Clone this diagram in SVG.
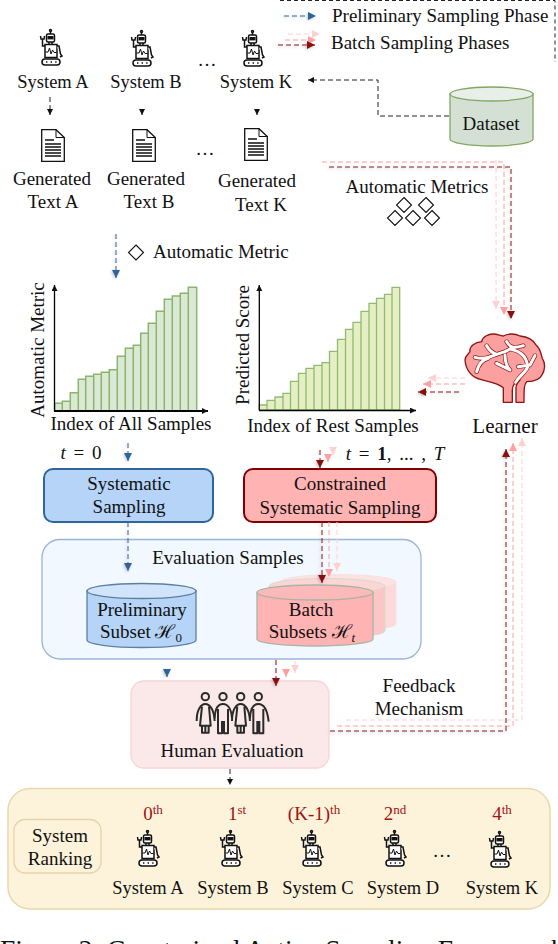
<svg xmlns="http://www.w3.org/2000/svg" xmlns:xlink="http://www.w3.org/1999/xlink" width="558" height="944" viewBox="0 0 558 944">
<style>
text{font-family:"Liberation Serif","DejaVu Serif",serif;font-size:19px;fill:#111;text-anchor:middle}
.st{text-anchor:start}
.sy{font-size:18.500px}
.lr{font-size:21px}
.rk{fill:#a01414;font-size:19px}
.sup{font-size:13px}
.cap{font-size:27.500px}
.math{word-spacing:3px}
.bar1{fill:#dae8d4;stroke:#8ab56f;stroke-width:1.500}
.bar2{fill:#e6efc4;stroke:#8fba70;stroke-width:1.300}
.ax{stroke:#000;stroke-width:1.300;fill:none;marker-end:url(#k)}
.ax2{stroke-width:2}
.d{fill:none;stroke-width:1;stroke-dasharray:5 3}
.bl{stroke:#2f6599;marker-end:url(#mb)}
.dr{stroke:#8b0d0d;marker-end:url(#mr)}
.pk{stroke:#ff9f9f;marker-end:url(#mp)}
.lp{stroke:#ffd0d0;marker-end:url(#ml)}
.kk{stroke:#222;marker-end:url(#k)}
.dia{fill:#fff;stroke:#111;stroke-width:1.100}
.rb{fill:#fff;stroke:#111;stroke-width:1.500}
.bk{fill:#111;stroke:none}
</style>
<defs>
<marker id="mb" markerUnits="userSpaceOnUse" markerWidth="9" markerHeight="9" refX="8" refY="4" orient="auto"><path d="M0,0L8,4L0,8Z" fill="#2f6599"/></marker>
<marker id="mr" markerUnits="userSpaceOnUse" markerWidth="9" markerHeight="9" refX="8" refY="4" orient="auto"><path d="M0,0L8,4L0,8Z" fill="#8b0d0d"/></marker>
<marker id="mp" markerUnits="userSpaceOnUse" markerWidth="9" markerHeight="9" refX="8" refY="4" orient="auto"><path d="M0,0L8,4L0,8Z" fill="#ff9f9f"/></marker>
<marker id="ml" markerUnits="userSpaceOnUse" markerWidth="9" markerHeight="9" refX="8" refY="4" orient="auto"><path d="M0,0L8,4L0,8Z" fill="#ffd0d0"/></marker>
<marker id="k" markerUnits="userSpaceOnUse" markerWidth="8" markerHeight="8" refX="6" refY="3" orient="auto"><path d="M0,0L6,3L0,6Z" fill="#111"/></marker>
<filter id="sh" filterUnits="userSpaceOnUse" x="0" y="0" width="558" height="944"><feDropShadow dx="-1" dy="1" stdDeviation="1.400" flood-color="#777" flood-opacity=".45"/></filter>
<g id="robot">
<circle class="rb" cx="10.500" cy="1.600" r="1"/><path class="rb" d="M10.500,3V5"/>
<rect class="rb" x="6.500" y="5" width="8" height="8" rx="1.500"/><rect class="bk" x="7.500" y="7" width="6" height="3.400"/>
<path class="rb" d="M9,13V15.500M12,13V15.500"/>
<path class="rb" fill="none" d="M5,17H2.500V10M0.500,7L1,10H4L4.500,7"/>
<rect class="rb" x="5" y="15.500" width="12" height="13"/>
<path fill="none" stroke="#111" stroke-width="1" d="M5.500,23H8L9.500,19L11,25L12.500,21L14,23.500H16.500"/>
<path class="rb" fill="none" d="M17,17H19L20.500,25L22,27L20,28"/>
<rect class="rb" x="2" y="30" width="18" height="6" rx="3"/>
<path stroke="#111" stroke-width="1.400" stroke-dasharray="1.400 3.200" d="M6,33H17"/>
</g>
<g id="doc">
<path d="M.7,.7H15L23.300,8.500V32.300H.7Z" fill="#fff" stroke="#111" stroke-width="1.300"/>
<path d="M15,.7V8.500H23.300" fill="none" stroke="#111" stroke-width="1"/>
<path d="M4,11H13M4,15H20M4,18H20M4,21H20M4,24H20M4,27H20" stroke="#111" stroke-width="1.400"/>
</g>
</defs>
<rect width="558" height="944" fill="#fff"/>

<g id="legend">
<path d="M280,.5H555V62" fill="none" stroke="#222" stroke-dasharray="4 3"/>
<text class="st" x="332" y="22">Preliminary Sampling Phase</text>
<text class="st" x="331" y="49">Batch Sampling Phases</text>
</g>

<g id="system-a"><use xlink:href="#robot" href="#robot" x="40" y="29"/><text class="sy" x="53" y="88">System A</text></g>
<g id="system-b"><use xlink:href="#robot" href="#robot" x="131" y="30"/><text class="sy" x="146" y="88">System B</text></g>
<g id="system-k"><use xlink:href="#robot" href="#robot" x="242" y="30"/><text class="sy" x="256" y="88">System K</text></g>
<text x="207" y="66">…</text>
<g id="text-a"><use xlink:href="#doc" href="#doc" x="41" y="129"/><text x="52" y="185">Generated</text><text x="53" y="208">Text A</text></g>
<g id="text-b"><use xlink:href="#doc" href="#doc" x="132" y="129"/><text x="146" y="185">Generated</text><text x="149" y="208">Text B</text></g>
<g id="text-k"><use xlink:href="#doc" href="#doc" x="244" y="128"/><text x="257" y="187">Generated</text><text x="261" y="211">Text K</text></g>
<text x="205" y="155">…</text>

<g id="dataset">
<path d="M450,94V139A41.500,7 0 0 0 533,139V94Z" fill="#d3e0d3" stroke="#82a860" stroke-width="1.300"/>
<ellipse cx="491.500" cy="94" rx="41.500" ry="7" fill="#e8eee8" stroke="#82a860" stroke-width="1.300"/>
<text x="491" y="130">Dataset</text>
</g>

<g id="automatic-metrics">
<text x="417" y="193">Automatic Metrics</text>
<path class="dia" d="M404,197.500l7.500,7.500l-7.500,7.500l-7.500,-7.500ZM426,197.500l7.500,7.500l-7.500,7.500l-7.500,-7.500ZM395,210.500l7.500,7.500l-7.500,7.500l-7.500,-7.500ZM413,210.500l7.500,7.500l-7.500,7.500l-7.500,-7.500ZM432,210.500l7.500,7.500l-7.500,7.500l-7.500,-7.500Z"/>
</g>
<g id="automatic-metric">
<path class="dia" d="M136,245l7.500,7.500l-7.500,7.500l-7.500,-7.500Z"/>
<text class="st" x="153" y="258">Automatic Metric</text>
</g>

<g id="chart-all">
<path class="bar1" d="M54.700,411V403.300H62.300V411ZM62.300,411V401.300H70.300V411ZM70.300,411V392.700H78.300V411ZM78.300,411V379.300H85.700V411ZM85.700,411V376.300H93.700V411ZM93.700,411V374.300H101.300V411ZM101.300,411V372.300H109.300V411ZM109.300,411V369.700H117.300V411ZM117.300,411V356.300H125.300V411ZM125.300,411V348.300H133.300V411ZM133.300,411V345.300H140.700V411ZM140.700,411V333.300H148.300V411ZM148.300,411V323.300H156.300V411ZM156.300,411V311.300H164.300V411ZM164.300,411V299.300H172.300V411ZM172.300,411V296H180.300V411ZM180.300,411V293.300H188.300V411ZM188.300,411V287.300H196.700V411Z"/>
<path class="ax" d="M54.500,411V285"/><path class="ax ax2" d="M54,411H208"/>
<text transform="translate(44,350) rotate(-90)">Automatic Metric</text>
<text x="131" y="430">Index of All Samples</text>
<text class="math" x="81" y="459"><tspan font-style="italic">t</tspan> = 0</text>
</g>
<g id="chart-rest">
<path class="bar2" d="M259.300,410V405H267V410ZM267,410V400.300H275V410ZM275,410V397H283V410ZM283,410V393.300H290.500V410ZM290.500,410V381.300H298.500V410ZM298.500,410V373.300H306V410ZM306,410V368.300H314V410ZM314,410V365.300H322V410ZM322,410V362.700H329.500V410ZM329.500,410V351.300H337.500V410ZM337.500,410V339.300H345.500V410ZM345.500,410V329.300H353V410ZM353,410V322.300H361V410ZM361,410V311.300H369V410ZM369,410V303.300H376.500V410ZM376.500,410V298.300H384.500V410ZM384.500,410V294.300H392V410ZM392,410V287.300H399.700V410Z"/>
<path class="ax" d="M259.300,410V285"/><path class="ax" d="M259,410.500H416"/>
<text transform="translate(249,345) rotate(-90)">Predicted Score</text>
<text x="333" y="432">Index of Rest Samples</text>
<text class="math" x="395" y="460"><tspan font-style="italic">t</tspan> = <tspan font-weight="bold">1</tspan>, ... , <tspan font-style="italic">T</tspan></text>
</g>

<g id="learner">
<g transform="translate(455,325) scale(.3333)">
<path d="M145,232V188C125,172 95,170 72,162C50,155 32,135 30,105C30,92 40,88 45,80C42,62 62,52 80,50C82,35 100,27 115,27C128,27 138,34 145,33C158,25 180,25 195,33C215,35 235,45 243,60C258,72 258,90 262,100C272,115 270,135 262,148C255,165 235,170 215,170C207,180 207,190 207,232H183V190C183,180 190,170 195,165C182,170 172,180 172,195V232Z" fill="#fb9f9f" stroke="#8b1515" stroke-width="4" stroke-linejoin="round"/>
<g fill="none" stroke-linecap="round" stroke-linejoin="round">
<path stroke="#8b1515" stroke-width="13" d="M60,97C90,105 105,95 125,88L150,80M95,62C105,80 115,85 125,88M155,50C165,70 180,70 205,62M165,72C200,80 215,95 218,125C215,140 195,150 182,172M240,92L225,120L190,125M65,140C70,120 80,105 100,100M125,115L165,135M150,90C150,110 155,125 165,135M150,80L165,72"/>
<path stroke="#fff" stroke-width="9" d="M60,97C90,105 105,95 125,88L150,80M95,62C105,80 115,85 125,88M155,50C165,70 180,70 205,62M165,72C200,80 215,95 218,125C215,140 195,150 182,172M240,92L225,120L190,125M65,140C70,120 80,105 100,100M125,115L165,135M150,90C150,110 155,125 165,135M150,80L165,72"/>
</g>
</g>
<text class="lr" x="505" y="433">Learner</text>
</g>

<g id="systematic-sampling">
<rect x="44" y="469" width="169" height="53" rx="9" fill="#b5d4f8" stroke="#2f6599" stroke-width="2"/>
<text x="129" y="490">Systematic</text><text x="129" y="513">Sampling</text>
</g>
<g id="constrained-sampling">
<rect x="244" y="469" width="192" height="53" rx="9" fill="#ffb3b3" stroke="#7f0000" stroke-width="2"/>
<text x="340" y="490">Constrained</text><text x="340" y="514">Systematic Sampling</text>
</g>

<g id="evaluation-samples">
<rect x="42" y="539.500" width="379" height="119.500" rx="18" fill="#f2f8ff" stroke="#9ab4dc" stroke-width="1.300"/>
<text x="228" y="564">Evaluation Samples</text>
</g>
<g id="preliminary-subset">
<path d="M87,591V640A54.500,7.500 0 0 0 196,640V591Z" fill="#b5d4f8" stroke="#5f7f9f" stroke-width="1.300"/>
<ellipse cx="141.500" cy="591" rx="54.500" ry="7.500" fill="#d0e4fb" stroke="#5f7f9f" stroke-width="1.300"/>
<text x="142" y="616">Preliminary</text>
<text x="141" y="638">Subset ℋ<tspan class="sup" dy="4">0</tspan></text>
</g>
<g id="batch-subsets">
<path d="M280,582V624A58,7 0 0 0 396,624V582Z" fill="#fdd9d9" stroke="#fbe0e0"/>
<ellipse cx="338" cy="582" rx="58" ry="7.500" fill="#fde2e2" stroke="#fbe0e0"/>
<path d="M269,586V631A58,7 0 0 0 385,631V586Z" fill="#fdc6c6" stroke="#d5dccb"/>
<ellipse cx="327" cy="586" rx="58" ry="7.500" fill="#fdd5d5" stroke="#d5dccb"/>
<path d="M257,592.500V639A58,7 0 0 0 373,639V592.500Z" fill="#ffb3b3" stroke="#a8b4a4" stroke-width="1.300"/>
<ellipse cx="315" cy="592.500" rx="58" ry="7.500" fill="#fdb9b9" stroke="#a8b4a4" stroke-width="1.300"/>
<text x="311" y="616">Batch</text>
<text x="312" y="638">Subsets ℋ<tspan class="sup" dy="4" font-style="italic">t</tspan></text>
</g>

<g id="human-evaluation">
<rect x="131" y="681" width="198" height="87" rx="13" fill="#fbe9e9" stroke="#f6d5d5" stroke-width="1.300"/>
<g transform="translate(190,685) scale(.3333)" fill="none" stroke="#2a2a2a" stroke-width="6" stroke-linejoin="round">
<circle cx="46" cy="35" r="11"/><circle cx="99" cy="35" r="11"/><circle cx="152" cy="35" r="11"/><circle cx="205" cy="35" r="11"/>
<path d="M20,108C20,75 32,57 46,57C60,57 72,75 74,108M36,65L30,122H62L57,65M36,122V143H56V122M46,122V143"/>
<path d="M74,100C75,72 85,57 99,57C113,57 124,72 126,100M84,72V145H96V108M114,72V145H102V108"/>
<path d="M126,108C126,75 138,57 152,57C166,57 178,75 180,108M142,65L136,122H168L163,65M142,122V143H162V122M152,122V143"/>
<path d="M180,100C181,72 191,57 205,57C219,57 232,72 236,110M190,72V145H202V108M220,72V145H208V108"/>
</g>
<text x="232" y="757">Human Evaluation</text>
</g>
<g id="feedback-mechanism"><text x="419" y="692">Feedback</text><text x="419" y="715">Mechanism</text></g>

<g id="system-ranking">
<rect x="8" y="788.500" width="542" height="120.500" rx="22" fill="#fdf3da" stroke="#ead8ac" stroke-width="1.500"/>
<rect x="14" y="819.500" width="87" height="53.500" rx="11" fill="#fdf3da" stroke="#e6d3a8" stroke-width="1.300"/>
<text x="60" y="842">System</text><text x="60" y="865">Ranking</text>
<text class="rk" x="153" y="820">0<tspan class="sup" dy="-6">th</tspan></text>
<text class="rk" x="237" y="820">1<tspan class="sup" dy="-6">st</tspan></text>
<text class="rk" x="314" y="820">(K-1)<tspan class="sup" dy="-6">th</tspan></text>
<text class="rk" x="395" y="820">2<tspan class="sup" dy="-6">nd</tspan></text>
<text class="rk" x="502" y="820">4<tspan class="sup" dy="-6">th</tspan></text>
<use xlink:href="#robot" href="#robot" x="137" y="830"/>
<use xlink:href="#robot" href="#robot" x="220" y="830"/>
<use xlink:href="#robot" href="#robot" x="301" y="830"/>
<use xlink:href="#robot" href="#robot" x="384" y="830"/>
<use xlink:href="#robot" href="#robot" x="489" y="831"/>
<text x="442" y="857">…</text>
<text class="sy" x="148" y="894">System A</text>
<text class="sy" x="233" y="894">System B</text>
<text class="sy" x="318" y="894">System C</text>
<text class="sy" x="403" y="894">System D</text>
<text class="sy" x="502" y="894">System K</text>
</g>
<text class="st cap" x="0" y="959">Figure 2: Constrained Active Sampling Framework</text>

<g id="connectors">
<path class="d lp" d="M288,34H320"/>
<path class="d pk" d="M285,40H316"/>
<g filter="url(#sh)"><path class="d bl" d="M284,16H316"/><path class="d dr" d="M278,45H315"/></g>
<path class="d kk" d="M449,116H378V80H308"/>
<path class="d kk" d="M50,97V115"/>
<path class="kk" d="M142,109V115"/>
<path class="kk" d="M257,109V115"/>
<g filter="url(#sh)"><path class="d bl" d="M116,234V278"/><path class="d bl" d="M128,443V461"/><path class="d bl" d="M128,522V571"/><path class="bl" d="M167,669V677"/></g>
<path class="d lp" d="M496,160V309"/>
<path class="d pk" d="M322,162H504V315"/>
<g filter="url(#sh)"><path class="d dr" d="M329,167H511V319"/></g>
<path class="d lp" d="M465,378H428"/>
<path class="d pk" d="M465,384H423"/>
<g filter="url(#sh)"><path class="d dr" d="M459,392H418"/></g>
<path class="d dr" filter="url(#sh)" d="M320,450V468"/>
<path class="pk" d="M328,456V462"/>
<path class="lp" d="M333,449V455"/>
<path class="d dr" filter="url(#sh)" d="M322,522V583"/>
<path class="d pk" d="M329,522V577"/>
<path class="d lp" d="M337,522V571"/>
<path class="d dr" filter="url(#sh)" d="M276,660V686"/>
<path class="pk" d="M286,670V677"/>
<path class="d lp" d="M295,661V673"/>
<path class="d lp" d="M346,720H522V438"/>
<path class="d pk" d="M337,726H513V443"/>
<path class="d dr" filter="url(#sh)" d="M330,731H506V449"/>
<path class="d kk" d="M230,769V785"/>
</g>
</svg>
